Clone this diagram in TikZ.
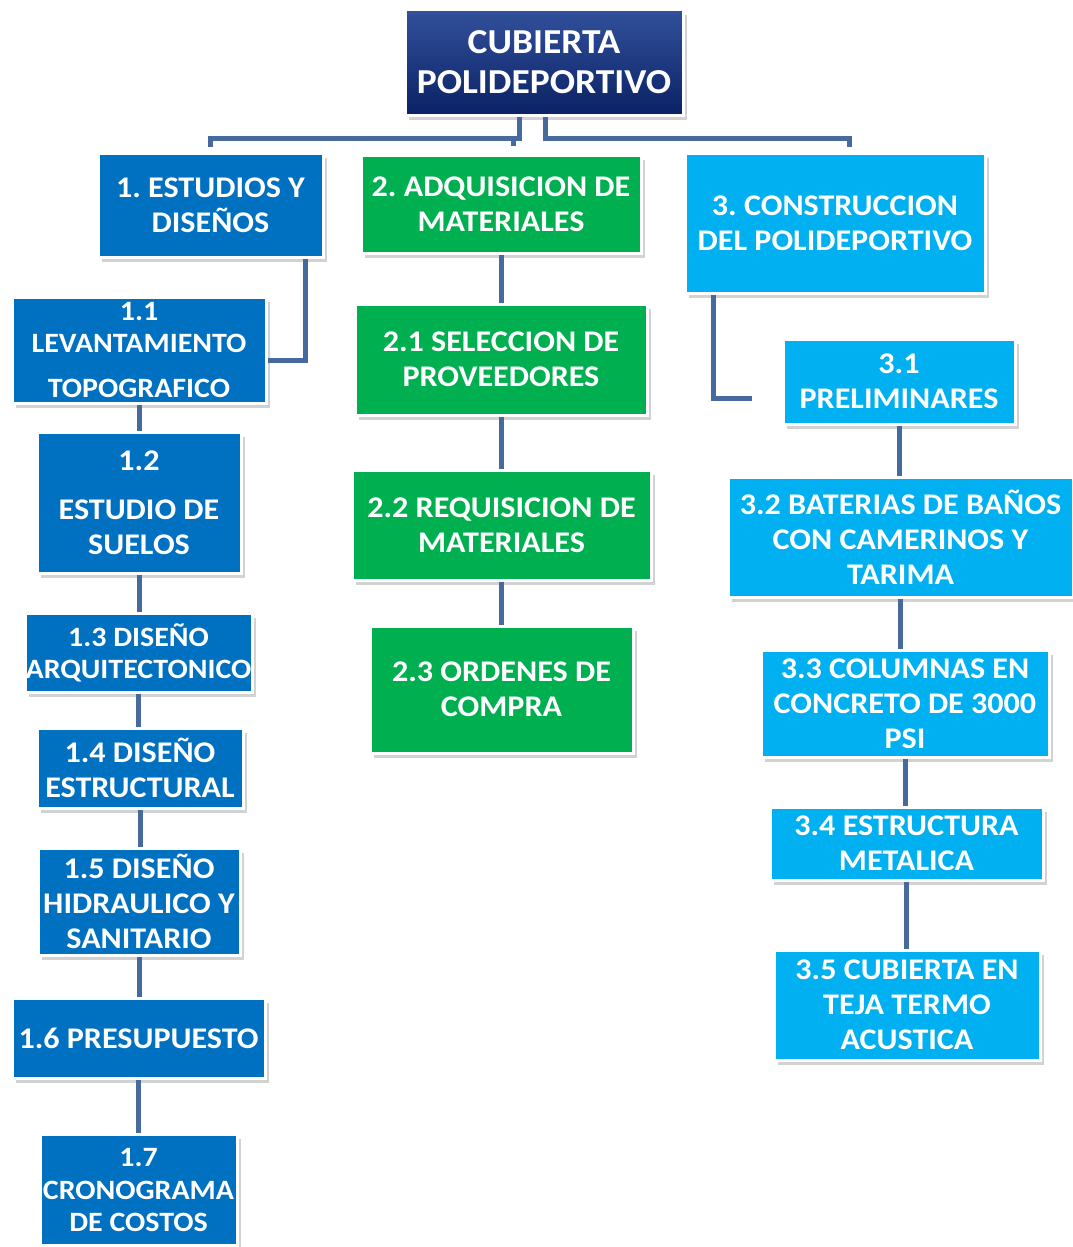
\documentclass[tikz,border=0pt]{standalone}
\usepackage{fontspec}
\setmainfont{Carlito}[FakeStretch=1.07]
\usetikzlibrary{shadows}
\definecolor{navy}{RGB}{10,34,100}
\definecolor{navytop}{RGB}{50,80,155}
\definecolor{dblue}{RGB}{0,112,192}
\definecolor{grn}{RGB}{0,176,80}
\definecolor{lblue}{RGB}{0,176,240}
\definecolor{cnc}{RGB}{70,106,158}
\tikzset{
  box/.style={draw=white, line width=3pt, text=white, align=center, inner sep=0pt,
    font=\bfseries\fontsize{30}{35}\selectfont\frenchspacing,
    drop shadow={shadow xshift=4pt, shadow yshift=-5pt, opacity=0.35}},
  smalltext/.style={font=\bfseries\fontsize{28}{35}\selectfont\frenchspacing},
  topbox/.style={box, top color=navytop, middle color=navy, bottom color=navy,
    font=\bfseries\fontsize{35}{40}\selectfont},
  bluebox/.style={box, fill=dblue},
  greenbox/.style={box, fill=grn},
  lightbox/.style={box, fill=lblue},
  cn/.style={draw=cnc, line width=5pt},
}
\begin{document}
\begin{tikzpicture}[x=1pt,y=-1pt]
\useasboundingbox (0,0) rectangle (1073,1247);
\fill[white] (0,0) rectangle (1073,1247);
% top
\node[topbox, minimum width=278pt, minimum height=105pt] (top) at (544,62.5) {CUBIERTA\\POLIDEPORTIVO};
% level 1
\node[bluebox, minimum width=225pt, minimum height=104pt] (n1) at (210.5,205) {1. ESTUDIOS Y\\DISEÑOS};
\node[greenbox, minimum width=280pt, minimum height=98pt] (n2) at (501,204) {2. ADQUISICION DE\\MATERIALES};
\node[lightbox, minimum width=300pt, minimum height=140pt] (n3) at (835,223) {3. CONSTRUCCION\\DEL POLIDEPORTIVO};
% branch 1
\node[bluebox, smalltext, minimum width=254pt, minimum height=106pt] (n11) at (139,350) {1.1\\[-3pt]LEVANTAMIENTO\\[10pt]TOPOGRAFICO};
\node[bluebox, minimum width=204pt, minimum height=141pt] (n12) at (139,502.5) {1.2\\[14pt]ESTUDIO DE\\SUELOS};
\node[bluebox, smalltext, minimum width=227pt, minimum height=79pt] (n13) at (138.5,652.5) {1.3 DISEÑO\\[-3pt]ARQUITECTONICO};
\node[bluebox, minimum width=206pt, minimum height=80pt] (n14) at (140,768) {1.4 DISEÑO\\ESTRUCTURAL};
\node[bluebox, minimum width=202pt, minimum height=107pt] (n15) at (139,901.5) {1.5 DISEÑO\\HIDRAULICO Y\\SANITARIO};
\node[bluebox, minimum width=253pt, minimum height=80pt] (n16) at (138.5,1038) {1.6 PRESUPUESTO};
\node[bluebox, smalltext, minimum width=197pt, minimum height=111pt] (n17) at (138.5,1189.5) {1.7\\[-2pt]CRONOGRAMA\\[-3pt]DE COSTOS};
% branch 2
\node[greenbox, minimum width=292pt, minimum height=111pt] (n21) at (501,359.5) {2.1 SELECCION DE\\PROVEEDORES};
\node[greenbox, minimum width=299pt, minimum height=110pt] (n22) at (501.5,525) {2.2 REQUISICION DE\\MATERIALES};
\node[greenbox, minimum width=263pt, minimum height=127pt] (n23) at (501.5,689.5) {2.3 ORDENES DE\\COMPRA};
% branch 3
\node[lightbox, minimum width=232pt, minimum height=85pt] (n31) at (899,381.5) {3.1\\PRELIMINARES};
\node[lightbox, minimum width=345pt, minimum height=120pt] (n32) at (900.5,537) {3.2 BATERIAS DE BAÑOS\\CON CAMERINOS Y\\TARIMA};
\node[lightbox, minimum width=288pt, minimum height=107pt] (n33) at (905,703.5) {3.3 COLUMNAS EN\\CONCRETO DE 3000\\PSI};
\node[lightbox, minimum width=273pt, minimum height=73pt] (n34) at (906.5,843.5) {3.4 ESTRUCTURA\\METALICA};
\node[lightbox, minimum width=266pt, minimum height=110pt] (n35) at (907,1005) {3.5 CUBIERTA EN\\TEJA TERMO\\ACUSTICA};
% connectors top
\draw[cn] ([xshift=-25pt]top.south) -- ++(0,22) -| ([yshift=5pt]n1.north);
\draw[cn] ([xshift=12pt,yshift=8pt]n2.north) -- ++(0,-10);
\draw[cn] ([xshift=1pt]top.south) -- ++(0,22) -| ([xshift=14pt,yshift=5pt]n3.north);
% branch 1
\draw[cn] ([xshift=95pt]n1.south) |- ([yshift=-10pt]n11.east);
\draw[cn] (n11.south) -- (n11.south |- n12.north);
\draw[cn] (n12.south) -- (n12.south |- n13.north);
\draw[cn] (n13.south) -- (n13.south |- n14.north);
\draw[cn] (n14.south) -- (n14.south |- n15.north);
\draw[cn] (n15.south) -- (n15.south |- n16.north);
\draw[cn] (n16.south) -- (n16.south |- n17.north);
% branch 2
\draw[cn] (n2.south) -- (n2.south |- n21.north);
\draw[cn] (n21.south) -- (n21.south |- n22.north);
\draw[cn] (n22.south) -- (n22.south |- n23.north);
% branch 3
\draw[cn] ([xshift=-122pt]n3.south) |- ([xshift=-30pt,yshift=-16.5pt]n31.west);
\draw[cn] (n31.south) -- (n31.south |- n32.north);
\draw[cn] (n32.south) -- (n32.south |- n33.north);
\draw[cn] (n33.south) -- (n33.south |- n34.north);
\draw[cn] (n34.south) -- (n34.south |- n35.north);
\end{tikzpicture}
\end{document}
